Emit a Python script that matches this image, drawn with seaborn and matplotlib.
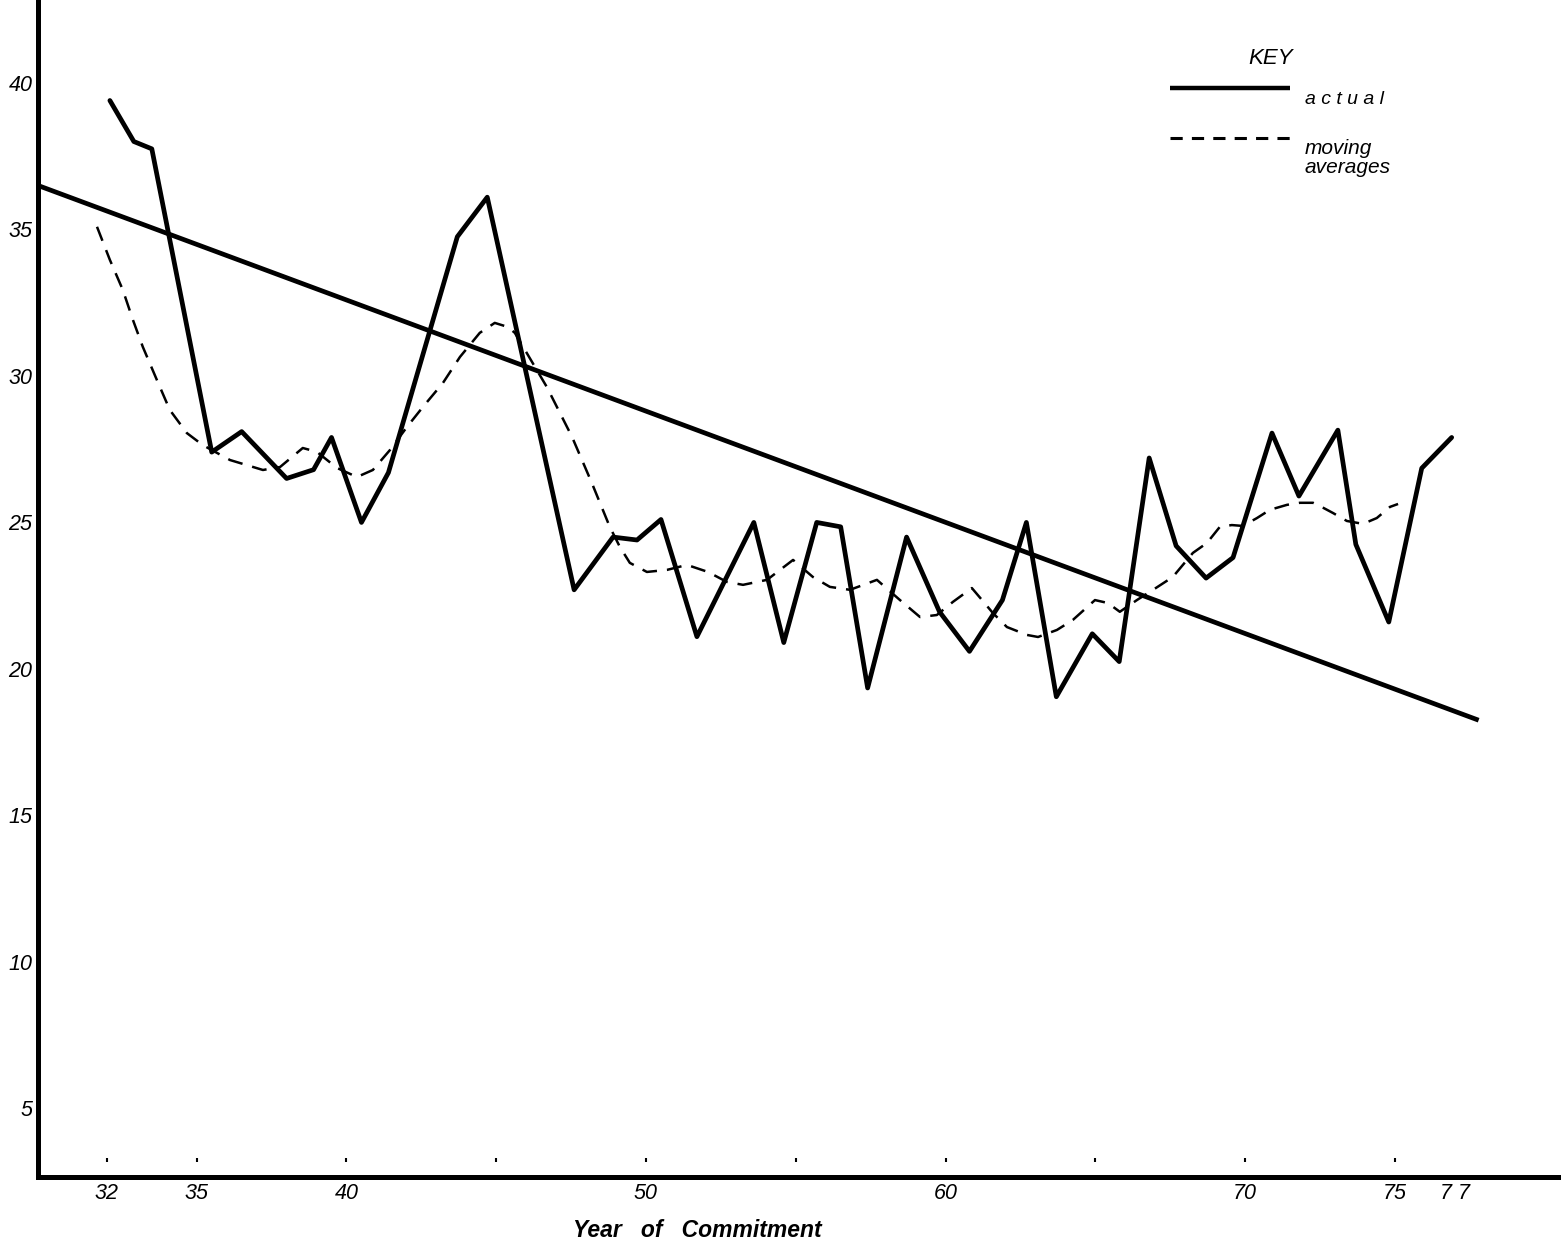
import numpy as np
import pandas as pd
import matplotlib
matplotlib.use("Agg")
import matplotlib.pyplot as plt
import seaborn as sns

actual_year = [32.1, 32.9, 33.5, 35.5, 36.5, 38.0, 38.9, 39.5, 40.5, 41.4,
               43.7, 44.7, 47.6, 48.9, 49.7, 50.5, 51.7, 53.6, 54.6, 55.7,
               56.5, 57.4, 58.7, 59.8, 60.8, 61.9, 62.7, 63.7, 64.9, 65.8,
               66.8, 67.7, 68.7, 69.6, 70.9, 71.8, 73.1, 73.7, 74.8, 75.9, 76.9]
actual_rate = [39.4, 38.0, 37.75, 27.4, 28.1, 26.5, 26.8, 27.9, 25.0, 26.7,
               34.75, 36.1, 22.7, 24.5, 24.4, 25.1, 21.1, 25.0, 20.9, 25.0,
               24.85, 19.35, 24.5, 21.95, 20.6, 22.35, 25.0, 19.05, 21.2, 20.25,
               27.2, 24.2, 23.1, 23.8, 28.05, 25.9, 28.15, 24.25, 21.6, 26.85, 27.9]

# moving averages (dashed)
avg_year = [31.67, 32.10, 32.53, 32.87, 33.20, 33.67, 34.10, 34.67, 35.20, 36.11,
            37.21, 37.78, 38.54, 39.01, 39.68, 40.35, 40.88, 41.45, 42.02, 42.55,
            43.22, 43.79, 44.45, 44.95, 45.39, 45.62, 46.02, 46.69, 47.53, 48.19,
            48.79, 49.13, 49.46, 50.03, 50.70, 51.37, 52.07, 52.70, 53.24, 54.04,
            54.91, 55.57, 56.14, 56.81, 57.71, 58.48, 59.15, 59.71, 60.25, 60.88,
            61.22, 61.58, 62.05, 62.72, 63.09, 63.72, 64.25, 64.99, 65.42, 65.82,
            66.39, 66.93, 67.59, 68.26, 68.73, 69.16, 69.56, 69.93, 70.40, 70.83,
            71.40, 71.83, 72.27, 72.50, 72.94, 73.40, 73.94, 74.40, 74.84, 75.11]
avg_rate = [35.09, 33.96, 32.94, 31.91, 30.99, 29.86, 28.84, 28.05, 27.64, 27.13,
            26.79, 26.89, 27.54, 27.41, 26.86, 26.55, 26.79, 27.47, 28.26, 28.94,
            29.76, 30.65, 31.47, 31.81, 31.67, 31.47, 30.78, 29.62, 27.92, 26.35,
            24.85, 24.16, 23.62, 23.31, 23.38, 23.55, 23.31, 22.97, 22.87, 23.04,
            23.72, 23.14, 22.80, 22.70, 23.04, 22.35, 21.77, 21.84, 22.29, 22.76,
            22.35, 21.91, 21.43, 21.16, 21.09, 21.33, 21.67, 22.35, 22.25, 21.95,
            22.35, 22.70, 23.14, 23.96, 24.30, 24.85, 24.91, 24.88, 25.15, 25.43,
            25.60, 25.67, 25.67, 25.56, 25.32, 25.05, 24.95, 25.15, 25.53, 25.63]

# straight trend line
trend_year = [29.7, 77.8]
trend_rate = [36.5, 18.25]

y_ticks = [5, 10, 15, 20, 25, 30, 35, 40]
x_ticks = [32, 35, 40, 50, 60, 70, 75, 77]
x_tick_labels = ["32", "35", "40", "50", "60", "70", "75", "7 7"]
mark_years = [32, 35, 40, 45, 50, 55, 60, 65, 70, 75]

df_actual = pd.DataFrame({"year": actual_year, "rate": actual_rate})
df_avg = pd.DataFrame({"year": avg_year, "rate": avg_rate})

sns.set_style("white")
plt.rcParams['font.family'] = ['Liberation Sans', 'DejaVu Sans']
plt.rcParams['text.color'] = 'black'
plt.rcParams['xtick.color'] = 'black'
plt.rcParams['ytick.color'] = 'black'
plt.rcParams['axes.labelcolor'] = 'black'

fig = plt.figure(figsize=(15.61, 12.44), dpi=100)
ax = fig.add_axes([38 / 1561, 1 - 1177 / 1244, 1 - 38 / 1561, 1177 / 1244])

sns.lineplot(data=df_actual, x="year", y="rate", ax=ax, color="black",
             linewidth=3.4, legend=False)
sns.lineplot(data=df_avg, x="year", y="rate", ax=ax, color="black",
             linewidth=1.8, legend=False)
ax.lines[-1].set_dashes((6, 4))
ax.plot(trend_year, trend_rate, color="black", linewidth=3.4, solid_capstyle="butt")

# little tick stubs above the x axis
ax.scatter(mark_years, [3.25] * len(mark_years), marker="|", s=12, color="black", linewidths=1.5)

ax.set_xlim(29.7, 80.55)
ax.set_ylim(2.66, 42.83)

ax.set_yticks(y_ticks)
ax.set_yticklabels([str(v) for v in y_ticks], fontstyle="italic", fontsize=15.5)
ax.set_xticks(x_ticks)
ax.set_xticklabels(x_tick_labels, fontstyle="italic", fontsize=15.5)
ax.tick_params(length=0, pad=4)

ax.set_xlabel("Year   of   Commitment", fontsize=16.5, fontstyle="italic",
              fontweight="bold")
ax.xaxis.set_label_coords((697 - 38) / 1523, -0.036)
ax.set_ylabel("")

for s in ["top", "right"]:
    ax.spines[s].set_visible(False)
for s in ["left", "bottom"]:
    ax.spines[s].set_linewidth(3.6)
    ax.spines[s].set_color("black")

# key, drawn by hand in axes fraction like the original
def ax_x(px):
    return (px - 38) / 1523

def ax_y(py):
    return (1177 - py) / 1177

tr = ax.transAxes
ax.text(ax_x(1271), ax_y(58), "KEY", transform=tr, fontsize=16, fontstyle="italic",
        ha="center", va="center")
ax.plot([ax_x(1170), ax_x(1290)], [ax_y(88), ax_y(88)], transform=tr,
        color="black", linewidth=3.2, solid_capstyle="butt")
ax.text(ax_x(1305), ax_y(99), "a c t u a l", transform=tr, fontsize=14,
        fontstyle="italic", ha="left", va="center")
dash_key = ax.plot([ax_x(1170), ax_x(1297)], [ax_y(138), ax_y(138)], transform=tr,
                   color="black", linewidth=2.2)[0]
dash_key.set_dashes((4, 3))
ax.text(ax_x(1305), ax_y(158), "moving\naverages", transform=tr, fontsize=15,
        fontstyle="italic", ha="left", va="center", linespacing=0.95)

fig.savefig("out.png", dpi=100)
